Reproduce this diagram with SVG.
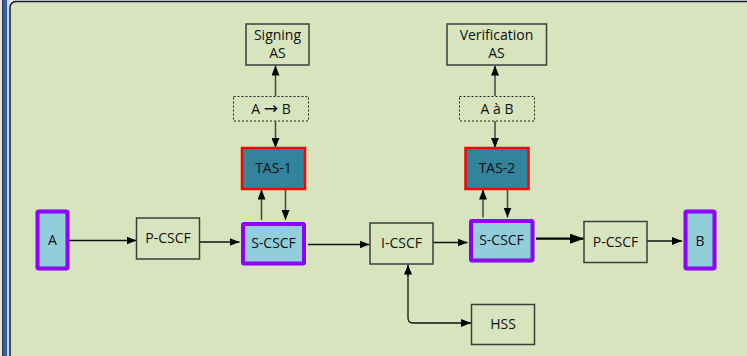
<svg xmlns="http://www.w3.org/2000/svg" width="747" height="356" viewBox="0 0 747 356">
<defs>
<marker id="ah" markerWidth="10" markerHeight="8" refX="10" refY="4" orient="auto" markerUnits="userSpaceOnUse">
<path d="M0,0 L10,4 L0,8 Z" fill="#000"/>
</marker>
<marker id="ahb" markerWidth="14" markerHeight="10" refX="14" refY="5" orient="auto" markerUnits="userSpaceOnUse">
<path d="M0,0 L14,5 L0,10 Z" fill="#000"/>
</marker>
<style>
.t{font-family:"Open Sans","Noto Sans","Liberation Sans",sans-serif;font-size:14px;fill:#111;text-anchor:middle}
.box{fill:none;stroke:#3c3c3c;stroke-width:1.5}
.dot{fill:none;stroke:#222;stroke-width:1;stroke-dasharray:2,2}
.tas{fill:#31849B;stroke:#ff0000;stroke-width:2.5}
.cs{fill:#92CDDC;stroke:#8B00FF;stroke-width:4}
.ln{stroke:#111;stroke-width:1.3;fill:none;marker-end:url(#ah)}
.lv{stroke:#444;stroke-width:1.5;fill:none;marker-end:url(#ah)}
</style>
</defs>
<rect x="0" y="0" width="747" height="356" fill="#e4e6ee"/>
<rect x="2" y="0" width="1" height="356" fill="#333"/>
<rect x="3" y="0" width="4" height="356" fill="#2f5bb7"/>
<rect x="7" y="0" width="2" height="356" fill="#cdd6ec"/>
<rect x="10" y="1.5" width="760" height="370" rx="6" fill="#D7E4BD" stroke="#1a1a2a" stroke-width="1.5"/>

<g id="connectors">
<line class="lv" x1="275.5" y1="96" x2="275.5" y2="65.5"/>
<line class="lv" x1="275.5" y1="121" x2="275.5" y2="148"/>
<line class="lv" x1="495" y1="96" x2="495" y2="65.5"/>
<line class="lv" x1="495" y1="121" x2="495" y2="148"/>
<line class="ln" x1="69" y1="240.5" x2="136.5" y2="240.5"/>
<line class="ln" x1="199" y1="242" x2="239.5" y2="242"/>
<line class="lv" x1="261.5" y1="220" x2="261.5" y2="189.5"/>
<line class="lv" x1="285.5" y1="189" x2="285.5" y2="220"/>
<line class="ln" x1="308" y1="244.5" x2="369.5" y2="244.5"/>
<line class="ln" x1="433" y1="242.5" x2="467.5" y2="242.5"/>
<line class="lv" x1="483" y1="217.5" x2="483" y2="189.5"/>
<line class="lv" x1="507.5" y1="189" x2="507.5" y2="217.5"/>
<path d="M536,238.7 L584,238.7" stroke="#000" stroke-width="2.2" fill="none" marker-end="url(#ahb)"/>
<line class="ln" x1="647" y1="241" x2="682" y2="241"/>
<path class="ln" d="M408,274 L408,318 Q408,323 413,323 L471,323"/>
<path class="ln" d="M408,276 L408,264.5"/>
</g>

<g id="signing-as"><rect class="box" x="246" y="24" width="63" height="41"/><text class="t" x="277.5" y="40">Signing</text><text class="t" x="277.5" y="58">AS</text></g>
<g id="ab1"><rect class="dot" x="233.5" y="96.5" width="75" height="24.5"/><text class="t" x="271" y="113.5">A <tspan font-size="17" font-family="DejaVu Sans">→</tspan> B</text></g>
<g id="tas-1"><rect class="tas" x="242" y="148" width="63" height="41"/><text class="t" x="273.5" y="173">TAS-1</text></g>
<g id="verification-as"><rect class="box" x="447" y="24" width="99.5" height="41"/><text class="t" x="496.5" y="40">Verification</text><text class="t" x="496.5" y="58">AS</text></g>
<g id="ab2"><rect class="dot" x="459.5" y="96.5" width="75" height="24.5"/><text class="t" x="497" y="113.5">A à B</text></g>
<g id="tas-2"><rect class="tas" x="465.5" y="148" width="63" height="41"/><text class="t" x="497" y="173">TAS-2</text></g>
<g id="a"><rect class="cs" x="37.5" y="211.5" width="30" height="57" rx="1"/><text class="t" x="52.5" y="245">A</text></g>
<g id="p-cscf-1"><rect class="box" x="136.5" y="218" width="63" height="41"/><text class="t" x="168" y="243">P-CSCF</text></g>
<g id="s-cscf-1"><rect class="cs" x="243" y="224" width="61" height="39.5" rx="1"/><text class="t" x="273.5" y="248">S-CSCF</text></g>
<g id="i-cscf"><rect class="box" x="370" y="223" width="63" height="41"/><text class="t" x="401.5" y="248">I-CSCF</text></g>
<g id="s-cscf-2"><rect class="cs" x="471" y="221" width="61.5" height="39.5" rx="1"/><text class="t" x="501.5" y="245">S-CSCF</text></g>
<g id="p-cscf-2"><rect class="box" x="584" y="221.5" width="63" height="41"/><text class="t" x="615.5" y="246.5">P-CSCF</text></g>
<g id="b"><rect class="cs" x="685.5" y="211.5" width="29" height="57" rx="1"/><text class="t" x="700" y="246">B</text></g>
<g id="hss"><rect class="box" x="471.5" y="304.5" width="63" height="40"/><text class="t" x="503" y="329">HSS</text></g>
</svg>
